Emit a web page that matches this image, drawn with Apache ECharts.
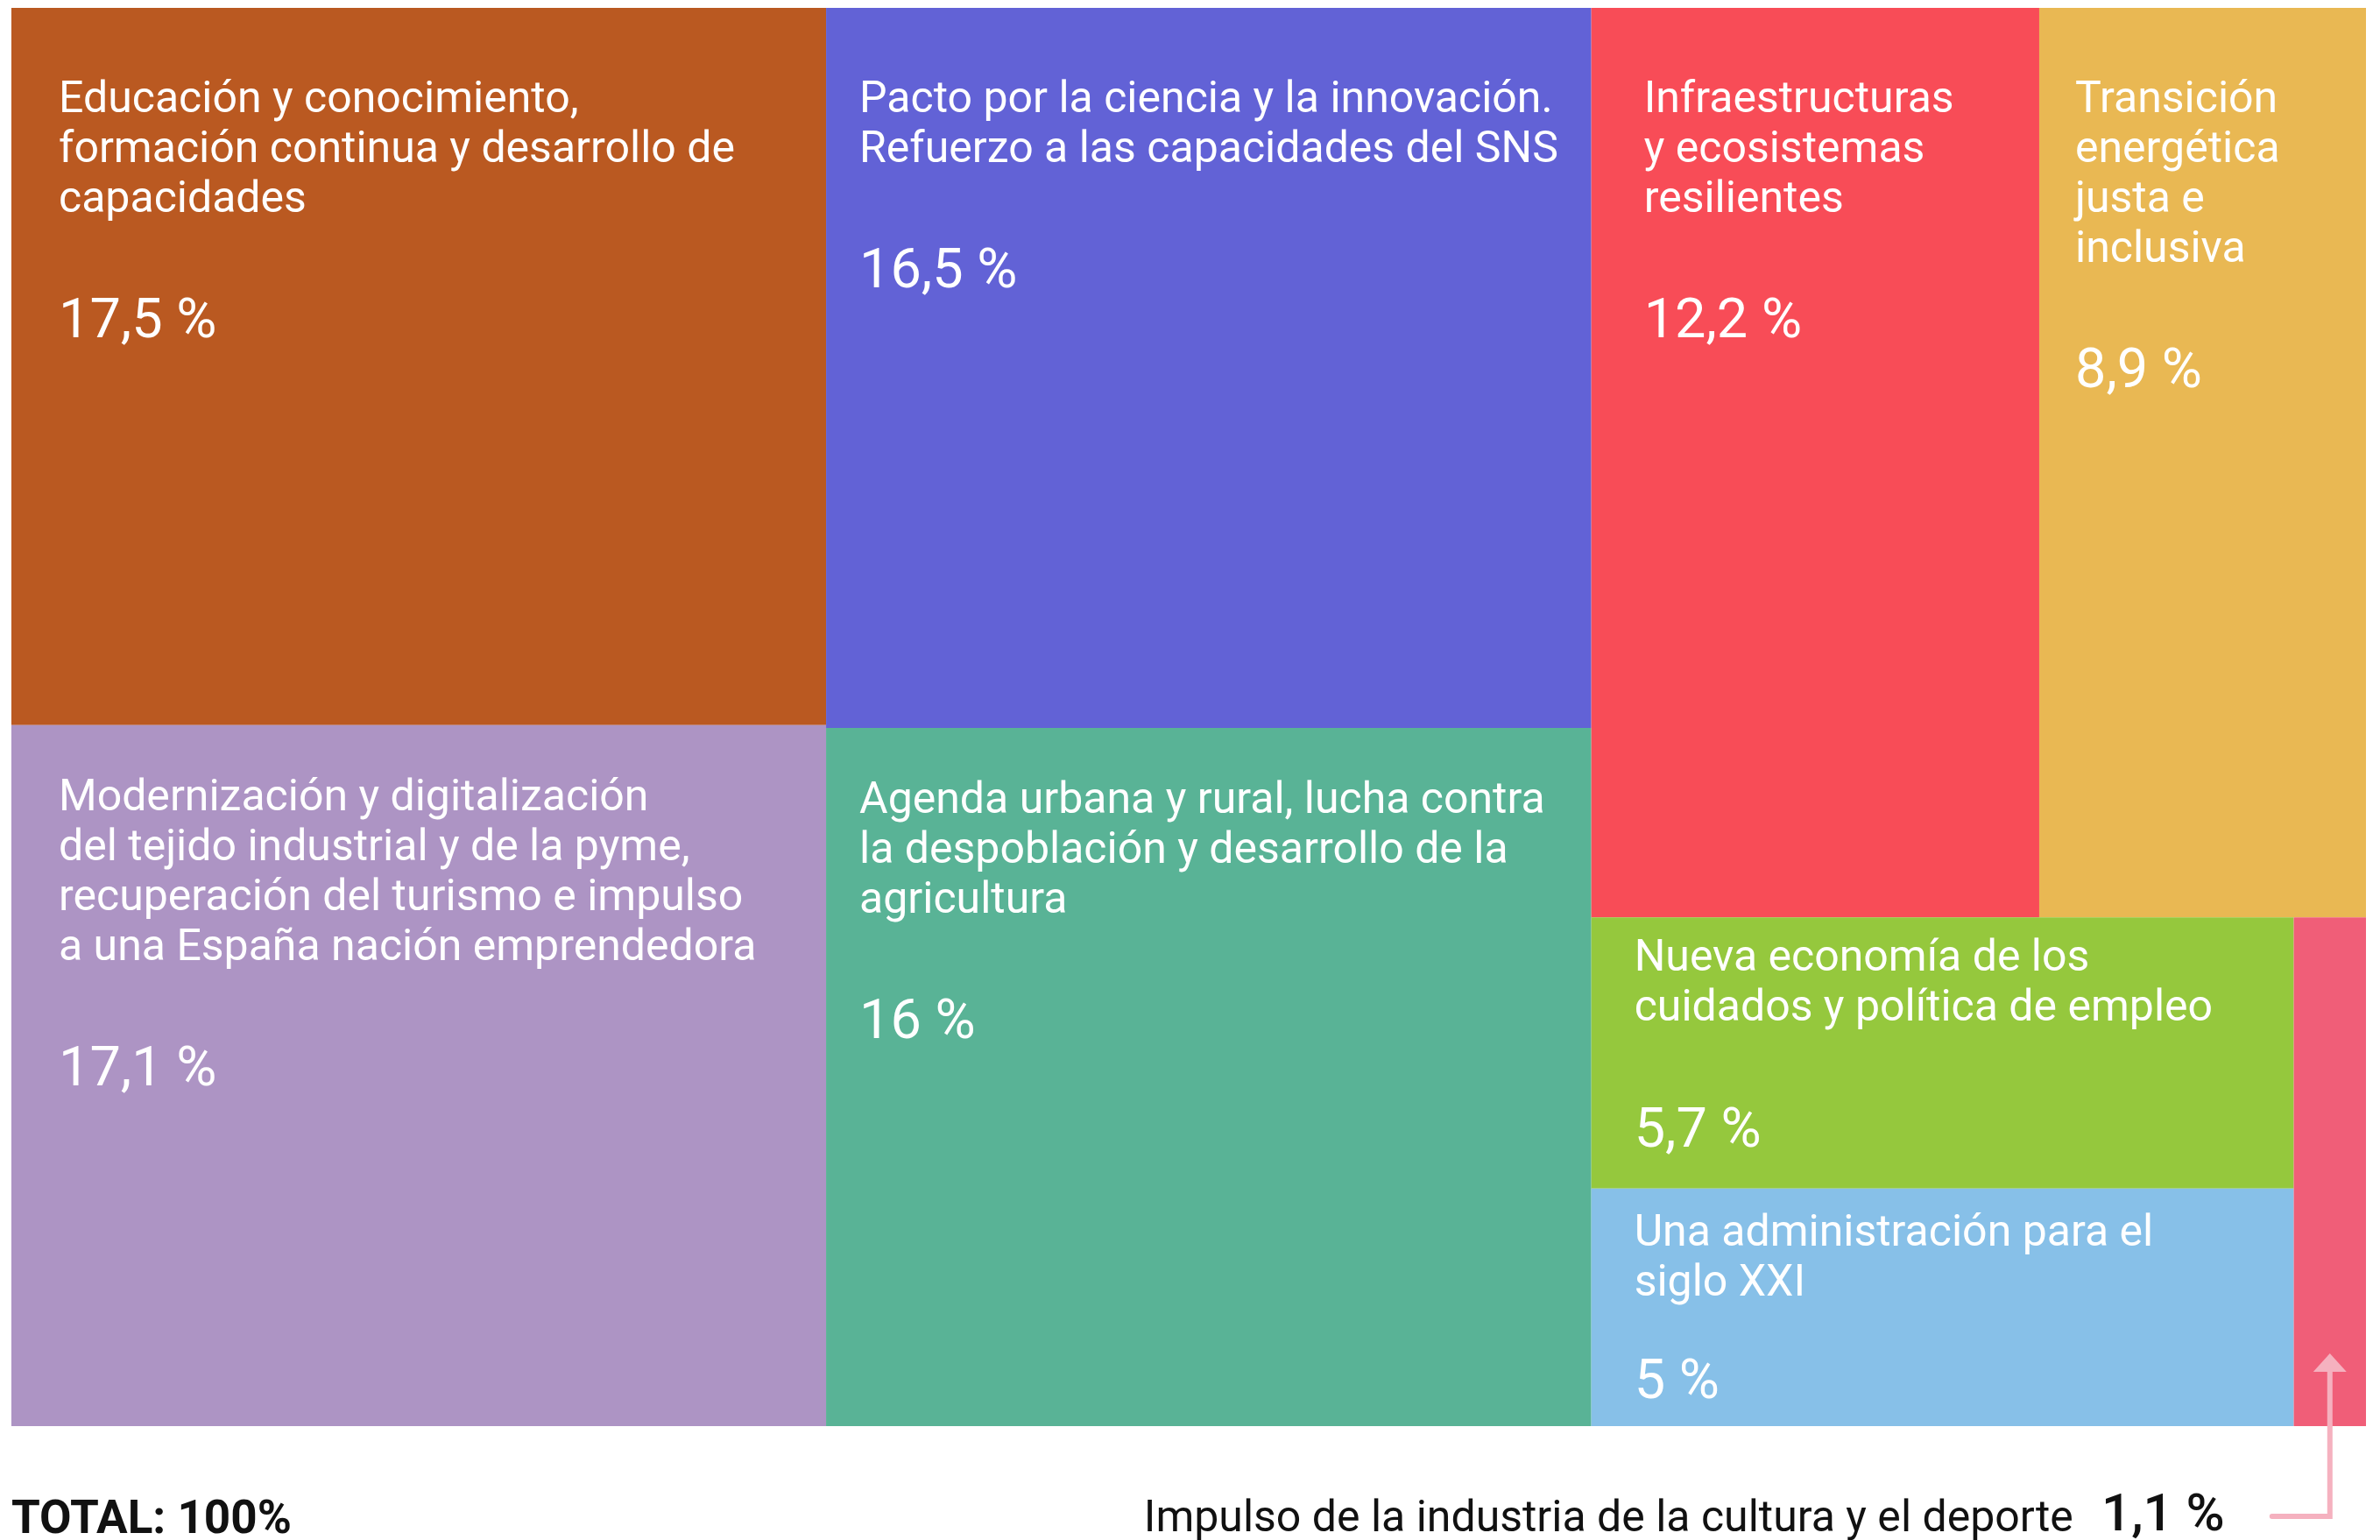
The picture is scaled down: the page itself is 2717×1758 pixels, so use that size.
<!DOCTYPE html>
<html>
<head>
<meta charset="utf-8">
<script src="https://cdn.jsdelivr.net/npm/echarts@6/dist/echarts.min.js"></script>
<style>
  html, body { margin: 0; padding: 0; background: #fff; }
  #chart { width: 2717px; height: 1758px; }
</style>
</head>
<body>
<div id="chart"></div>
<script>
// componentes del plan y su peso (%)
const names = [
  'Educación y conocimiento,\nformación continua y desarrollo de\ncapacidades',
  'Modernización y digitalización\ndel tejido industrial y de la pyme,\nrecuperación del turismo e impulso\na una España nación emprendedora',
  'Pacto por la ciencia y la innovación.\nRefuerzo a las capacidades del SNS',
  'Agenda urbana y rural, lucha contra\nla despoblación y desarrollo de la\nagricultura',
  'Infraestructuras\ny ecosistemas\nresilientes',
  'Transición\nenergética\njusta e\ninclusiva',
  'Nueva economía de los\ncuidados y política de empleo',
  'Una administración para el\nsiglo XXI',
  'Impulso de la industria de la cultura y el deporte'
]
const values = [17.5, 17.1, 16.5, 16, 12.2, 8.9, 5.7, 5, 1.1]
const pctLabels = ['17,5 %', '17,1 %', '16,5 %', '16 %', '12,2 %', '8,9 %', '5,7 %', '5 %', '1,1 %']
const totalLabel = 'TOTAL: 100%'

// colores
const colors = ['#ba5921', '#ad94c4', '#6262d6', '#59b396', '#f84c57', '#e9b853', '#95c83d', '#87c0e8', '#f05e78']
const arrowColor = '#f5b1bf'

// estructura del treemap: 'row' = lado a lado, 'col' = apilados
const tree = ['row', ['col', 0, 1], ['col', 2, 3], ['col', ['row', 4, 5], ['row', ['col', 6, 7], 8]]]

function sumOf(node)
{
  if (typeof node === 'number') return values[node]
  return node.slice(1).reduce((s, n) => s + sumOf(n), 0)
}
const rects = []
function layout(node, x, y, w, h)
{
  if (typeof node === 'number') {
    rects[node] = [x, y, w, h]
    return
  }
  const total = sumOf(node)
  let off = 0
  node.slice(1).forEach(n =>
  {
    const f = sumOf(n) / total
    if (node[0] === 'row') layout(n, x + off * w, y, w * f, h)
    else layout(n, x, y + off * h, w, h * f)
    off += f
  })
}
layout(tree, 0, 0, 100, 100)

// margen de las etiquetas dentro de cada celda [izq, arriba]
const inset = [[54, 78], [54, 56], [38, 78], [38, 56], [60, 78], [41, 78], [49, 20], [49, 24], [0, 0]]
const FONT = 'Roboto, "Noto Sans", sans-serif'

function renderItem(params, api)
{
  const i = api.value(0)
  const r = rects[i]
  const p0 = api.coord([r[0], r[1]])
  const p1 = api.coord([r[0] + r[2], r[1] + r[3]])
  const children = [{
    type: 'rect',
    shape: { x: p0[0], y: p0[1], width: p1[0] - p0[0], height: p1[1] - p0[1] },
    style: { fill: colors[i] }
  }]
  if (i < 8) {
    const tx = p0[0] + inset[i][0]
    const ty = p0[1] + inset[i][1]
    const lines = names[i].split('\n').length
    children.push({
      type: 'text', x: tx, y: ty,
      style: { text: names[i], fill: '#fff', fontFamily: FONT, fontSize: 50, lineHeight: 57, align: 'left', verticalAlign: 'top' }
    })
    // el porcentaje nunca pasa del borde inferior de la celda
    const base = Math.min(ty + 45.5 + (lines - 1) * 57 + 145, p1[1] - 26)
    children.push({
      type: 'text', x: tx, y: base - 22,
      style: { text: pctLabels[i], fill: '#fff', fontFamily: FONT, fontSize: 63, align: 'left', verticalAlign: 'middle' }
    })
  } else {
    // anotación externa con flecha
    const cx = (p0[0] + p1[0]) / 2
    const bottom = p1[1]
    const base = bottom + 124
    const ly = bottom + 103
    children.push({
      type: 'polyline',
      shape: { points: [[cx - 66, ly], [cx, ly], [cx, bottom - 62]] },
      style: { stroke: arrowColor, lineWidth: 6, fill: null, lineCap: 'round' }
    })
    children.push({
      type: 'polygon',
      shape: { points: [[cx, bottom - 83], [cx - 19, bottom - 62], [cx + 19, bottom - 62]] },
      style: { fill: arrowColor }
    })
    children.push({
      type: 'text', x: cx - 120, y: base - 20,
      style: { text: pctLabels[i], fill: '#111', fontFamily: FONT, fontSize: 60, fontWeight: 500, align: 'right', verticalAlign: 'middle' }
    })
    children.push({
      type: 'text', x: cx - 293, y: base - 17,
      style: { text: names[i], fill: '#111', fontFamily: FONT, fontSize: 50, align: 'right', verticalAlign: 'middle' }
    })
  }
  return { type: 'group', children }
}

const chart = echarts.init(document.getElementById('chart'))
chart.setOption({
  animation: false,
  grid: { left: 13, top: 9, width: 2688, height: 1619 },
  xAxis: { type: 'value', min: 0, max: 100, show: false },
  yAxis: { type: 'value', min: 0, max: 100, inverse: true, show: false },
  graphic: [{
    type: 'text', left: 13, top: 1710,
    style: { text: totalLabel, fill: '#111', fontFamily: FONT, fontSize: 53, fontWeight: 'bold' }
  }],
  series: [{
    type: 'custom',
    renderItem,
    silent: true,
    clip: false,
    data: values.map((v, i) => [i, v])
  }]
})
</script>
</body>
</html>
